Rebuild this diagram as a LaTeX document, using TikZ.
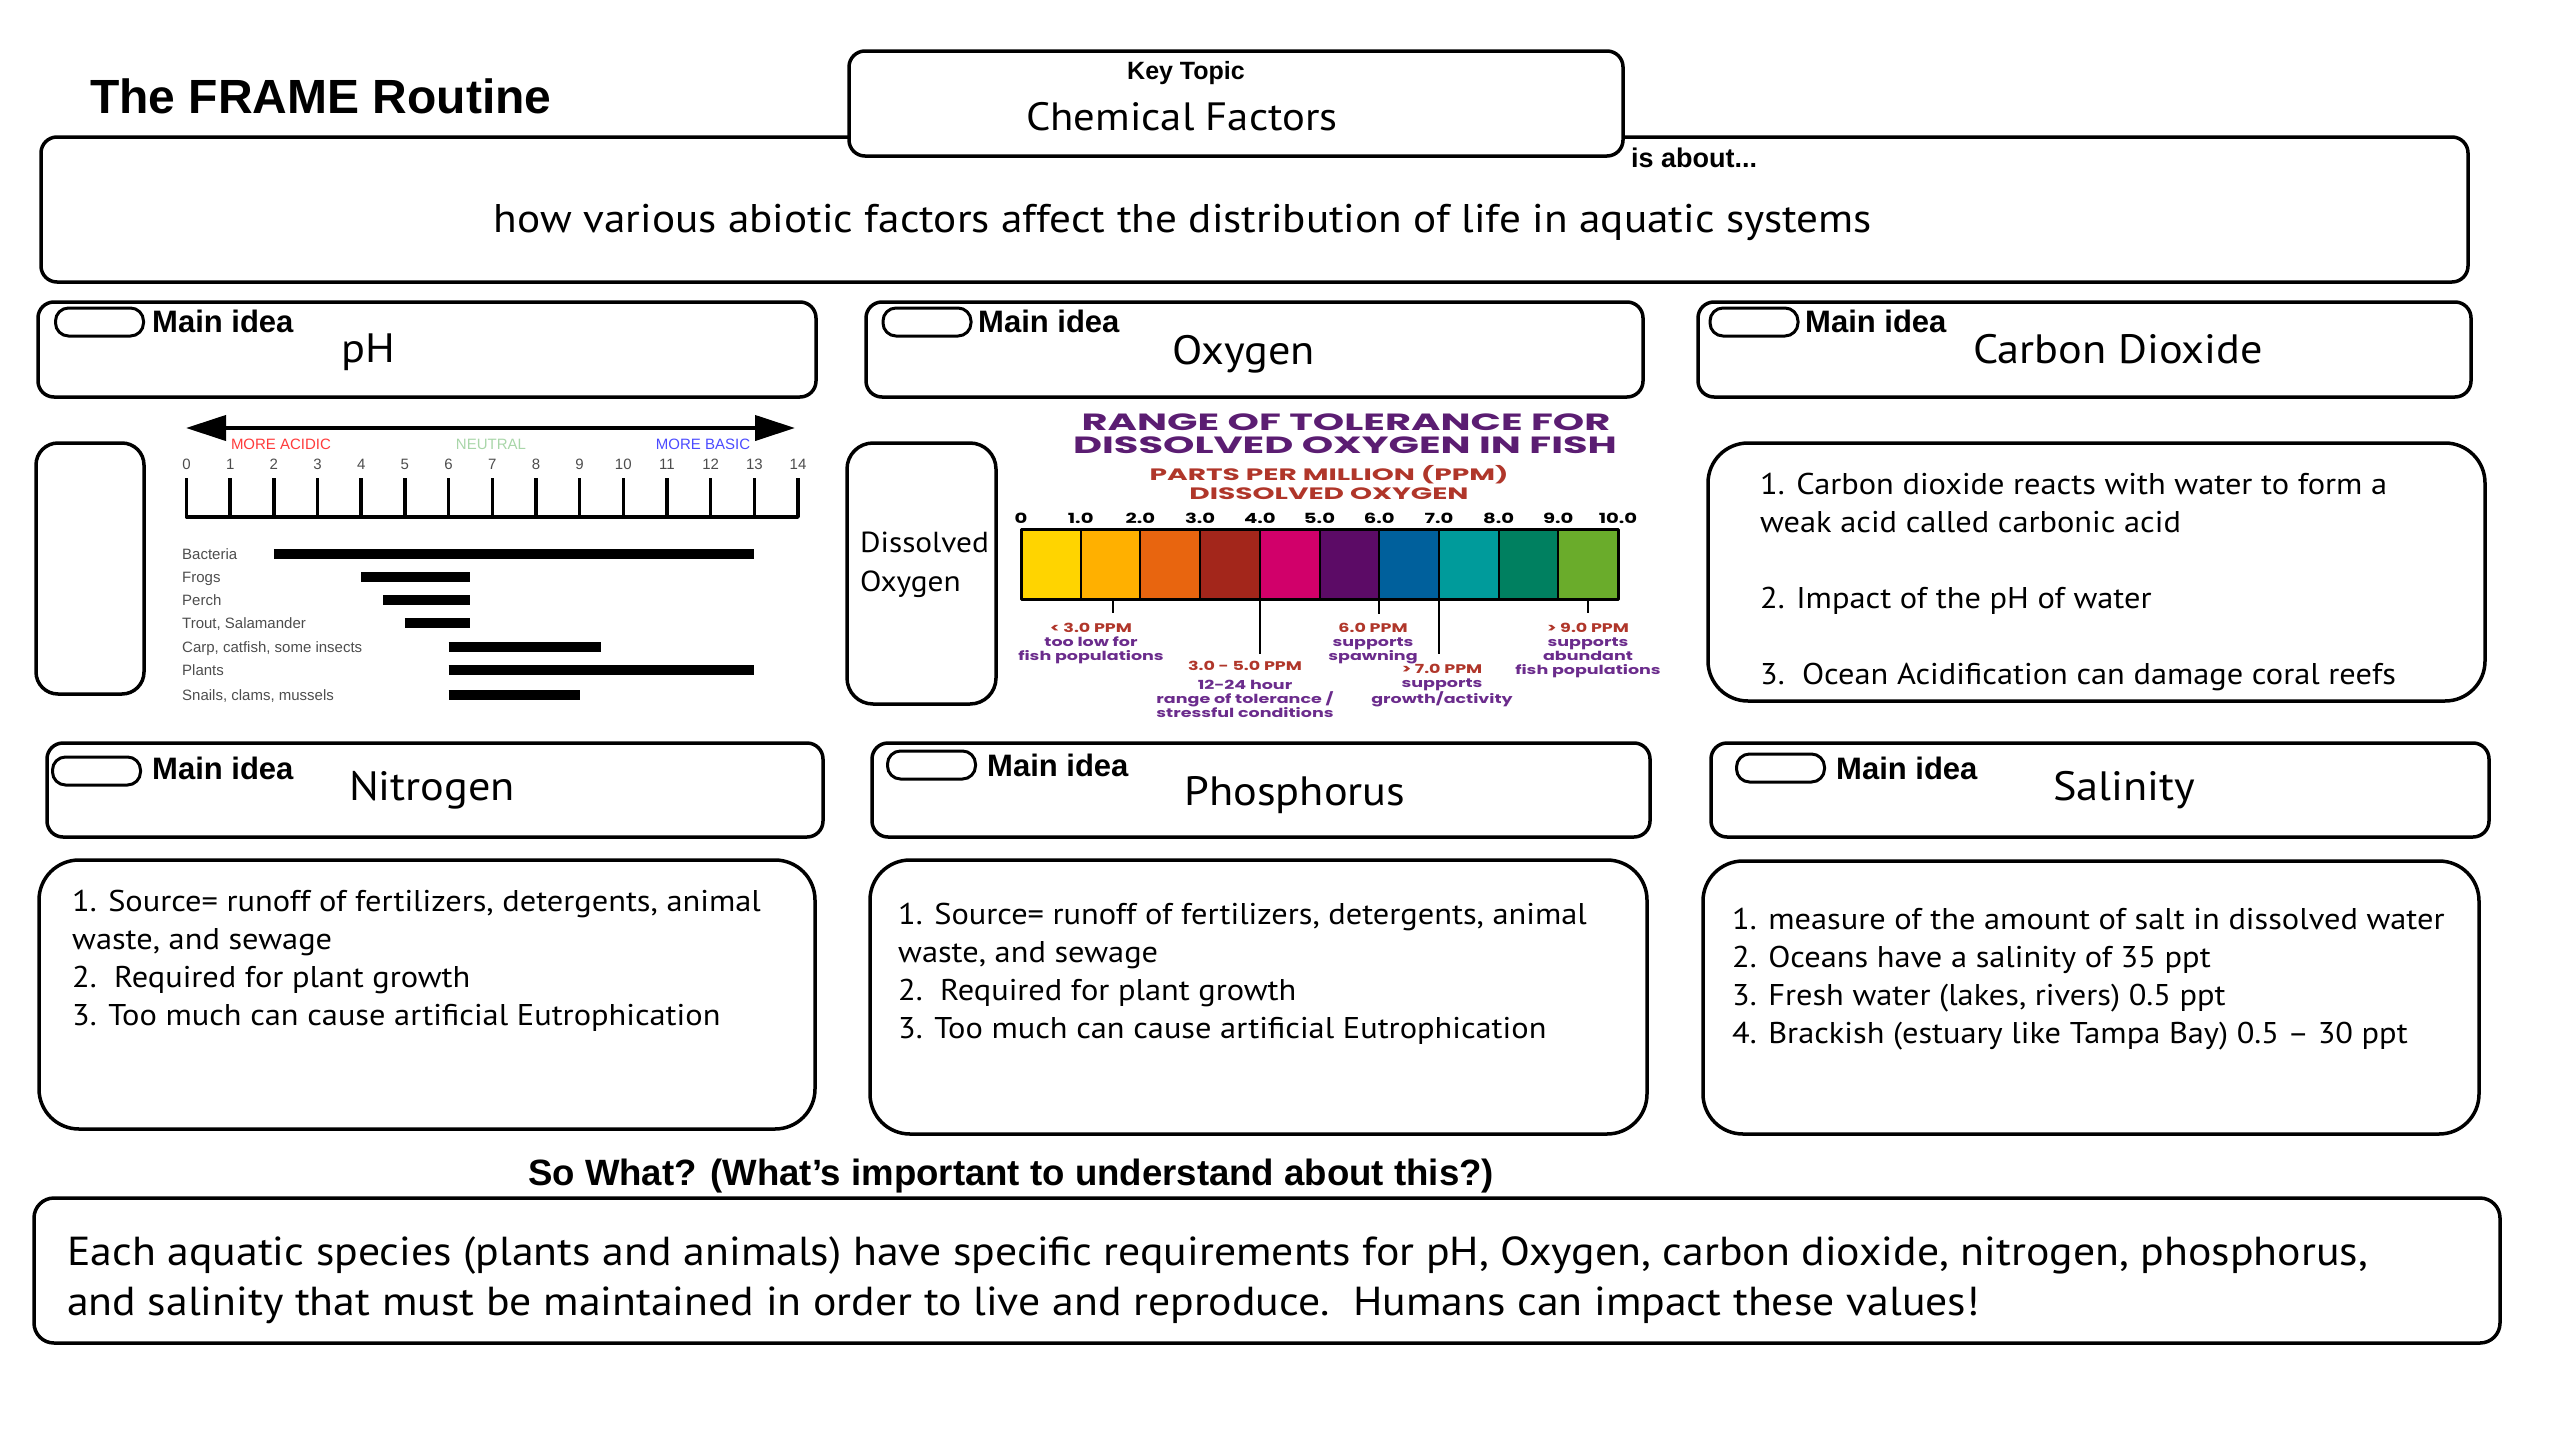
\documentclass[tikz,border=0pt]{standalone}
\usepackage{fontspec}
\setmainfont{PT Sans}[FakeStretch=1.08]
\newfontfamily\labelfont{Liberation Sans}
\newfontfamily\chartfont{Poppins}[FakeStretch=1.4]
\newfontfamily\widefont{Poppins}[FakeStretch=1.7]
\usetikzlibrary{arrows.meta}
\newcommand{\pxfont}[2]{\fontsize{#1}{#2}\selectfont}

\definecolor{acid}{HTML}{FF3B3B}
\definecolor{neutral}{HTML}{A9D6A9}
\definecolor{basic}{HTML}{4B4BFF}
\definecolor{chartgray}{HTML}{4D4D4D}
\definecolor{dotitle}{HTML}{5B1D72}
\definecolor{dored}{HTML}{B0362A}
\definecolor{donote}{HTML}{6B2C8C}

\tikzstyle{panel}=[draw,line width=3.5pt,rounded corners=16pt,fill=white,inner sep=0pt]
\tikzstyle{notebox}=[panel,rounded corners=40pt]
\tikzstyle{pill}=[draw,line width=3pt,rounded corners=13pt,minimum width=88pt,
                  minimum height=28pt,inner sep=0pt]
\tikzstyle{heading}=[font=\labelfont\bfseries\pxfont{48}{48},anchor=base west,inner sep=0pt]
\tikzstyle{smalltag}=[font=\labelfont\bfseries\pxfont{25}{25},anchor=base,inner sep=0pt]
\tikzstyle{ideatag}=[font=\labelfont\bfseries\pxfont{31}{31},anchor=base west,inner sep=0pt]
\tikzstyle{topic}=[font=\pxfont{41}{41},anchor=base,inner sep=0pt]
\tikzstyle{notes}=[font=\pxfont{30}{38},align=left,anchor=north west,inner sep=0pt]
\tikzstyle{phnum}=[font=\labelfont\pxfont{15}{15},text=chartgray,anchor=base,inner sep=0pt]
\tikzstyle{phlabel}=[font=\labelfont\pxfont{15}{15},text=chartgray,anchor=base west,inner sep=0pt]
\tikzstyle{dohead}=[font=\widefont\bfseries\pxfont{23.5}{23.5},text=dotitle,anchor=base,inner sep=0pt]
\tikzstyle{dosub}=[font=\widefont\bfseries\pxfont{16.5}{16.5},text=dored,anchor=base,inner sep=0pt]
\tikzstyle{donum}=[font=\chartfont\bfseries\pxfont{14}{14},anchor=base,inner sep=0pt]
\tikzstyle{donote}=[font=\chartfont\bfseries\pxfont{12.5}{14},text=donote,align=center,
                    anchor=north,inner sep=0pt]

\begin{document}
\begin{tikzpicture}[x=1pt,y=-1pt,line join=round]
  \useasboundingbox (0,0) rectangle (2560,1440);

	% title, key topic and statement
	\node[heading] (routine) at (90,113) {The FRAME Routine};
	\node[panel,minimum width=2427pt,minimum height=145pt] (about) at (1254.5,209.5) {};
	\node[panel,minimum width=774pt,minimum height=105pt] (key) at (1236,103.5) {};
	\node[smalltag] (keylabel) at (1186,79) {Key Topic};
	\node[topic,font=\pxfont{39.5}{39.5}] (keytext) at (1182,130) {Chemical Factors};
	\node[smalltag,anchor=base west,font=\labelfont\bfseries\pxfont{27}{27}] (isabout) at (1631,167) {is about...};
	\node[topic,font=\pxfont{40}{40}] (abouttext) at (1183,232)
		{how various abiotic factors affect the distribution of life in aquatic systems};

	% main ideas, first row
	\node[panel,minimum width=778pt,minimum height=95pt] (phidea) at (427,349.5) {};
	\node[pill] (phpill) at (99.5,322) {};
	\node[ideatag] (phtag) at (152,332) {Main idea};
	\node[topic] (phtitle) at (368,362) {pH};

	\node[panel,minimum width=777pt,minimum height=95pt] (oxidea) at (1254.5,349.5) {};
	\node[pill] (oxpill) at (927,322) {};
	\node[ideatag] (oxtag) at (978,332) {Main idea};
	\node[topic] (oxtitle) at (1244,364) {Oxygen};

	\node[panel,minimum width=773pt,minimum height=95pt] (coidea) at (2084.5,349.5) {};
	\node[pill] (copill) at (1754,322) {};
	\node[ideatag] (cotag) at (1805,332) {Main idea};
	\node[topic] (cotitle) at (2118,363) {Carbon Dioxide};

	% pH chart
	\node[panel,rounded corners=22pt,minimum width=108pt,minimum height=251pt] (phside) at (90,568.5) {};
	\coordinate (acidend) at (186,428);
	\coordinate (basicend) at (795,428);
	\draw[line width=4pt,{Triangle[length=40pt,width=25pt]}-{Triangle[length=40pt,width=25pt]}]
		(acidend) -- (basicend);
	\node[phnum,text=acid] (acidlab) at (281,449) {MORE ACIDIC};
	\node[phnum,text=neutral] (neutlab) at (491,449) {NEUTRAL};
	\node[phnum,text=basic] (baselab) at (703,449) {MORE BASIC};
	\draw[line width=3.5pt] (186.5,478) -- (186.5,517) -- (798,517) -- (798,478);
	\foreach \k in {1,...,13}
		\draw[line width=3.5pt] ({186.5+43.68*\k},478) -- ({186.5+43.68*\k},517);
	\foreach \k in {0,...,14}
		\node[phnum] (tick\k) at ({186.5+43.68*\k},469) {\k};
	\foreach \name/\lo/\hi/\y [count=\i] in {Bacteria/2/13/554, Frogs/4/6.5/577,
			Perch/4.5/6.5/600, {Trout, Salamander}/5/6.5/623,
			{Carp, catfish, some insects}/6/9.5/647, Plants/6/13/670,
			{Snails, clams, mussels}/6/9/695}
	{
		\node[phlabel] (kind\i) at (182,\y+5) {\name};
		\draw[line width=10pt] ({186.5+43.68*\lo},\y) -- ({186.5+43.68*\hi},\y);
	}

	% dissolved oxygen chart
	\node[panel,rounded corners=26pt,minimum width=149pt,minimum height=261pt] (doside) at (921.5,573.5) {};
	\node[notes,font=\pxfont{29}{39}] (dotext) at (860,532) {Dissolved\\Oxygen};
	\node[dohead] (dotitle1) at (1346,430) {RANGE OF TOLERANCE FOR};
	\node[dohead] (dotitle2) at (1345,453) {DISSOLVED OXYGEN IN FISH};
	\node[dosub] (dosub1) at (1329,480) {PARTS PER MILLION (PPM)};
	\node[dosub] (dosub2) at (1329,499) {DISSOLVED OXYGEN};
	\foreach \c [count=\k from 0] in {FFD400,FFB000,E8650F,A3261B,D1006A,
			5C0B66,00609C,009B9B,008060,6AAC2B}
	{
		\definecolor{segcol}{HTML}{\c}
		\fill[segcol] ({1021+59.7*\k},529) rectangle ({1080.7+59.7*\k},599);
	}
	\foreach \k in {1,...,9}
		\draw[line width=2pt] ({1021+59.7*\k},529) -- ({1021+59.7*\k},599);
	\draw[line width=3pt] (1021,529) rectangle (1618,599);
	\foreach \v [count=\k from 0] in {0,1.0,2.0,3.0,4.0,5.0,6.0,7.0,8.0,9.0,10.0}
		\node[donum] (ppm\k) at ({1021+59.7*\k},523) {\v};

	\node[donote] (lowlab) at (1091,623)
		{\textcolor{dored}{< 3.0 PPM}\\too low for\\fish populations};
	\node[donote] (stresslab) at (1245,661)
		{\textcolor{dored}{3.0 - 5.0 PPM}\\[5pt]12-24 hour\\range of tolerance /\\stressful conditions};
	\node[donote] (spawnlab) at (1373,623)
		{\textcolor{dored}{6.0 PPM}\\supports\\spawning};
	\node[donote] (growlab) at (1442,664)
		{\textcolor{dored}{> 7.0 PPM}\\supports\\growth/activity};
	\node[donote] (richlab) at (1588,623)
		{\textcolor{dored}{> 9.0 PPM}\\supports\\abundant\\fish populations};
	\coordinate (lowtick) at (1113,599);
	\coordinate (stresstick) at (1259.8,599);
	\coordinate (spawntick) at (1379.2,599);
	\coordinate (growtick) at (1438.9,599);
	\coordinate (richtick) at (1588,599);
	\draw[line width=1.5pt] (lowtick) -- ++(0,14);
	\draw[line width=1.5pt] (stresstick) -- ++(0,55);
	\draw[line width=1.5pt] (spawntick) -- ++(0,15);
	\draw[line width=1.5pt] (growtick) -- ++(0,55);
	\draw[line width=1.5pt] (richtick) -- ++(0,14);

	% carbon dioxide notes
	\node[notebox,minimum width=777pt,minimum height=258pt] (cobox) at (2096.5,572) {};
	\node[notes] (cotext) at (1760,473)
		{1. Carbon dioxide reacts with water to form a\\weak acid called carbonic acid\\[38pt]
		 2. Impact of the pH of water\\[38pt]3.\ \ Ocean Acidification can damage coral reefs};

	% main ideas, second row
	\node[panel,minimum width=776pt,minimum height=94pt] (nidea) at (435,790) {};
	\node[pill] (npill) at (96.5,771) {};
	\node[ideatag] (ntag) at (152,779) {Main idea};
	\node[topic] (ntitle) at (432,800) {Nitrogen};

	\node[panel,minimum width=778pt,minimum height=94pt] (pidea) at (1261,790) {};
	\node[pill] (ppill) at (931.5,765) {};
	\node[ideatag] (ptag) at (987,776) {Main idea};
	\node[topic] (ptitle) at (1295,805) {Phosphorus};

	\node[panel,minimum width=778pt,minimum height=94pt] (sidea) at (2100,790) {};
	\node[pill] (spill) at (1780.5,768) {};
	\node[ideatag] (stag) at (1836,779) {Main idea};
	\node[topic] (stitle) at (2124,800) {Salinity};

	% details
	\node[notebox,minimum width=776pt,minimum height=269pt] (nbox) at (427,994.5) {};
	\node[notes] (ntext) at (72,890)
		{1. Source= runoff of fertilizers, detergents, animal\\waste, and sewage\\
		 2.\ \ Required for plant growth\\3. Too much can cause artificial Eutrophication};
	\node[notebox,minimum width=777pt,minimum height=274pt] (pbox) at (1258.5,997) {};
	\node[notes] (ptext) at (898,903)
		{1. Source= runoff of fertilizers, detergents, animal\\waste, and sewage\\
		 2.\ \ Required for plant growth\\3. Too much can cause artificial Eutrophication};
	\node[notebox,minimum width=776pt,minimum height=273pt] (sbox) at (2091,997.5) {};
	\node[notes] (stext) at (1732,908)
		{1. measure of the amount of salt in dissolved water\\2. Oceans have a salinity of 35 ppt\\
		 3. Fresh water (lakes, rivers) 0.5 ppt\\4. Brackish (estuary like Tampa Bay) 0.5 – 30 ppt};

	% so what
	\node[smalltag,font=\labelfont\bfseries\pxfont{36.6}{36.6}] (sowhat) at (1011,1185)
		{So What? (What’s important to understand about this?)};
	\node[panel,rounded corners=20pt,minimum width=2466pt,minimum height=145pt] (final) at (1267,1270.5) {};
	\node[notes,font=\pxfont{40.5}{50}] (finaltext) at (67,1236)
		{Each aquatic species (plants and animals) have specific requirements for pH, Oxygen, carbon dioxide, nitrogen, phosphorus,\\
		 and salinity that must be maintained in order to live and reproduce.\ \ Humans can impact these values!};

\end{tikzpicture}
\end{document}
